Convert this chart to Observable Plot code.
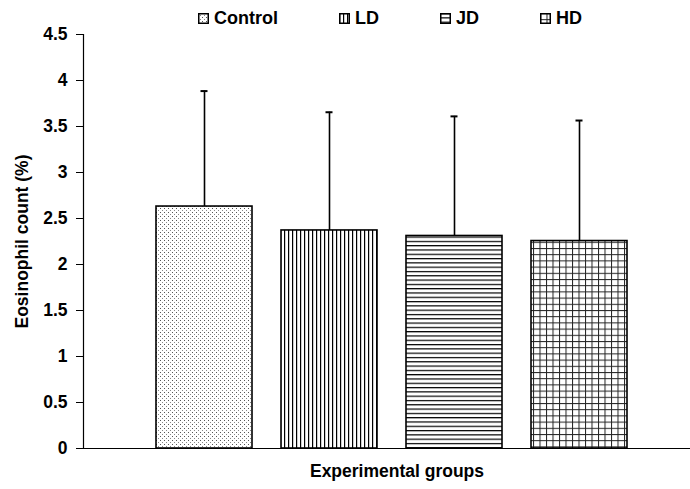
<!DOCTYPE html>
<html>
<head>
<meta charset="utf-8">
<script src="https://cdn.jsdelivr.net/npm/d3@7"></script>
<script src="https://cdn.jsdelivr.net/npm/@observablehq/plot@0.6"></script>
<style>
  html, body { margin: 0; padding: 0; background: #fff; }
  #wrap { position: relative; width: 690px; height: 489px; font-family: "Liberation Sans", Arial, sans-serif; }
  #legend { position: absolute; top: 8px; left: 198px; display: flex; gap: 61px; align-items: center;
            font-weight: bold; font-size: 18px; color: #000; line-height: 21px; }
  #legend .item { display: flex; align-items: center; gap: 5px; }
  #legend svg { display: block; }
</style>
</head>
<body>
<div id="wrap"><div id="legend"></div></div>
<script>
const groups = ["Control", "LD", "JD", "HD"];
const means = [2.63, 2.37, 2.31, 2.255];
const sds = [1.255, 1.285, 1.30, 1.31];
const yTicks = [0, 0.5, 1, 1.5, 2, 2.5, 3, 3.5, 4, 4.5];
const patternIds = ["pDots", "pVert", "pHoriz", "pGrid"];

const data = groups.map((g, i) => ({group: g, mean: means[i], upper: means[i] + sds[i], pat: `url(#${patternIds[i]})`}));

const defsMarkup = `
  <pattern id="pDots" width="4" height="4" patternUnits="userSpaceOnUse">
    <rect width="4" height="4" fill="#fff"/>
    <rect x="0" y="0" width="1" height="1" fill="#555"/>
    <rect x="2" y="2" width="1" height="1" fill="#888"/>
  </pattern>
  <pattern id="pVert" width="4" height="4" patternUnits="userSpaceOnUse">
    <rect width="4" height="4" fill="#fff"/>
    <rect x="0" y="0" width="1.2" height="4" fill="#000"/>
  </pattern>
  <pattern id="pHoriz" width="4" height="4.3" patternUnits="userSpaceOnUse">
    <rect width="4" height="4.3" fill="#fff"/>
    <rect x="0" y="0" width="4" height="1.2" fill="#000"/>
  </pattern>
  <pattern id="pGrid" width="6.5" height="6.2" patternUnits="userSpaceOnUse">
    <rect width="6.5" height="6.2" fill="#fff"/>
    <rect x="0" y="0" width="1" height="6.2" fill="#222"/>
    <rect x="0" y="0" width="6.5" height="1" fill="#222"/>
  </pattern>`;

const plot = Plot.plot({
  width: 690,
  height: 489,
  marginTop: 34,
  marginBottom: 41,
  marginLeft: 83,
  marginRight: 0,
  style: {fontFamily: "'Liberation Sans', Arial, sans-serif", fontSize: "17px", fontWeight: "bold", color: "#000", background: "transparent", overflow: "visible"},
  x: {domain: groups, range: [140.3, 641.6], paddingInner: 0.234, paddingOuter: 0.117, axis: null},
  y: {domain: [0, 4.5], axis: null},
  color: {type: "ordinal", domain: groups, range: data.map(d => d.pat)},
  marks: [
    Plot.ruleX(data, {x: "group", y1: "mean", y2: "upper", stroke: "#000", strokeWidth: 1.6}),
    Plot.tickY(data, {x: "group", y: "upper", stroke: "#000", strokeWidth: 2, insetLeft: 44.5, insetRight: 44.5}),
    Plot.barY(data, {x: "group", y: "mean", fill: "group", stroke: "#000", strokeWidth: 1.6}),
    Plot.axisY({ticks: yTicks, tickSize: 7, tickPadding: 9, tickFormat: d => String(d), label: null, fontSize: 17.5, fontWeight: "bold"}),
    Plot.frame({anchor: "left", stroke: "#000", strokeWidth: 1.2}),
    Plot.ruleY([0], {stroke: "#000", strokeWidth: 1.2}),
    Plot.text(["Eosinophil count (%)"], {frameAnchor: "left", textAnchor: "middle", rotate: -90, dx: -61, fontSize: 17.5, fontWeight: "bold", fill: "#000"}),
    Plot.text(["Experimental groups"], {frameAnchor: "bottom", dx: 10, dy: 28, fontSize: 17.5, fontWeight: "bold", fill: "#000"})
  ]
});

const svgNS = "http://www.w3.org/2000/svg";
const defs = document.createElementNS(svgNS, "defs");
defs.innerHTML = defsMarkup;
plot.insertBefore(defs, plot.firstChild);
plot.style.display = "block";
document.getElementById("wrap").appendChild(plot);

// legend
const legend = d3.select("#legend");
groups.forEach((g, i) => {
  const item = legend.append("div").attr("class", "item");
  const s = item.append("svg").attr("width", 11).attr("height", 11);
  s.append("defs").html(defsMarkup.replaceAll('id="', `id="lg${i}_`));
  s.append("rect").attr("x", 0.75).attr("y", 0.75).attr("width", 9.5).attr("height", 9.5)
    .attr("fill", `url(#lg${i}_${patternIds[i]})`).attr("stroke", "#000").attr("stroke-width", 1.5);
  item.append("span").text(g);
});
</script>
</body>
</html>
